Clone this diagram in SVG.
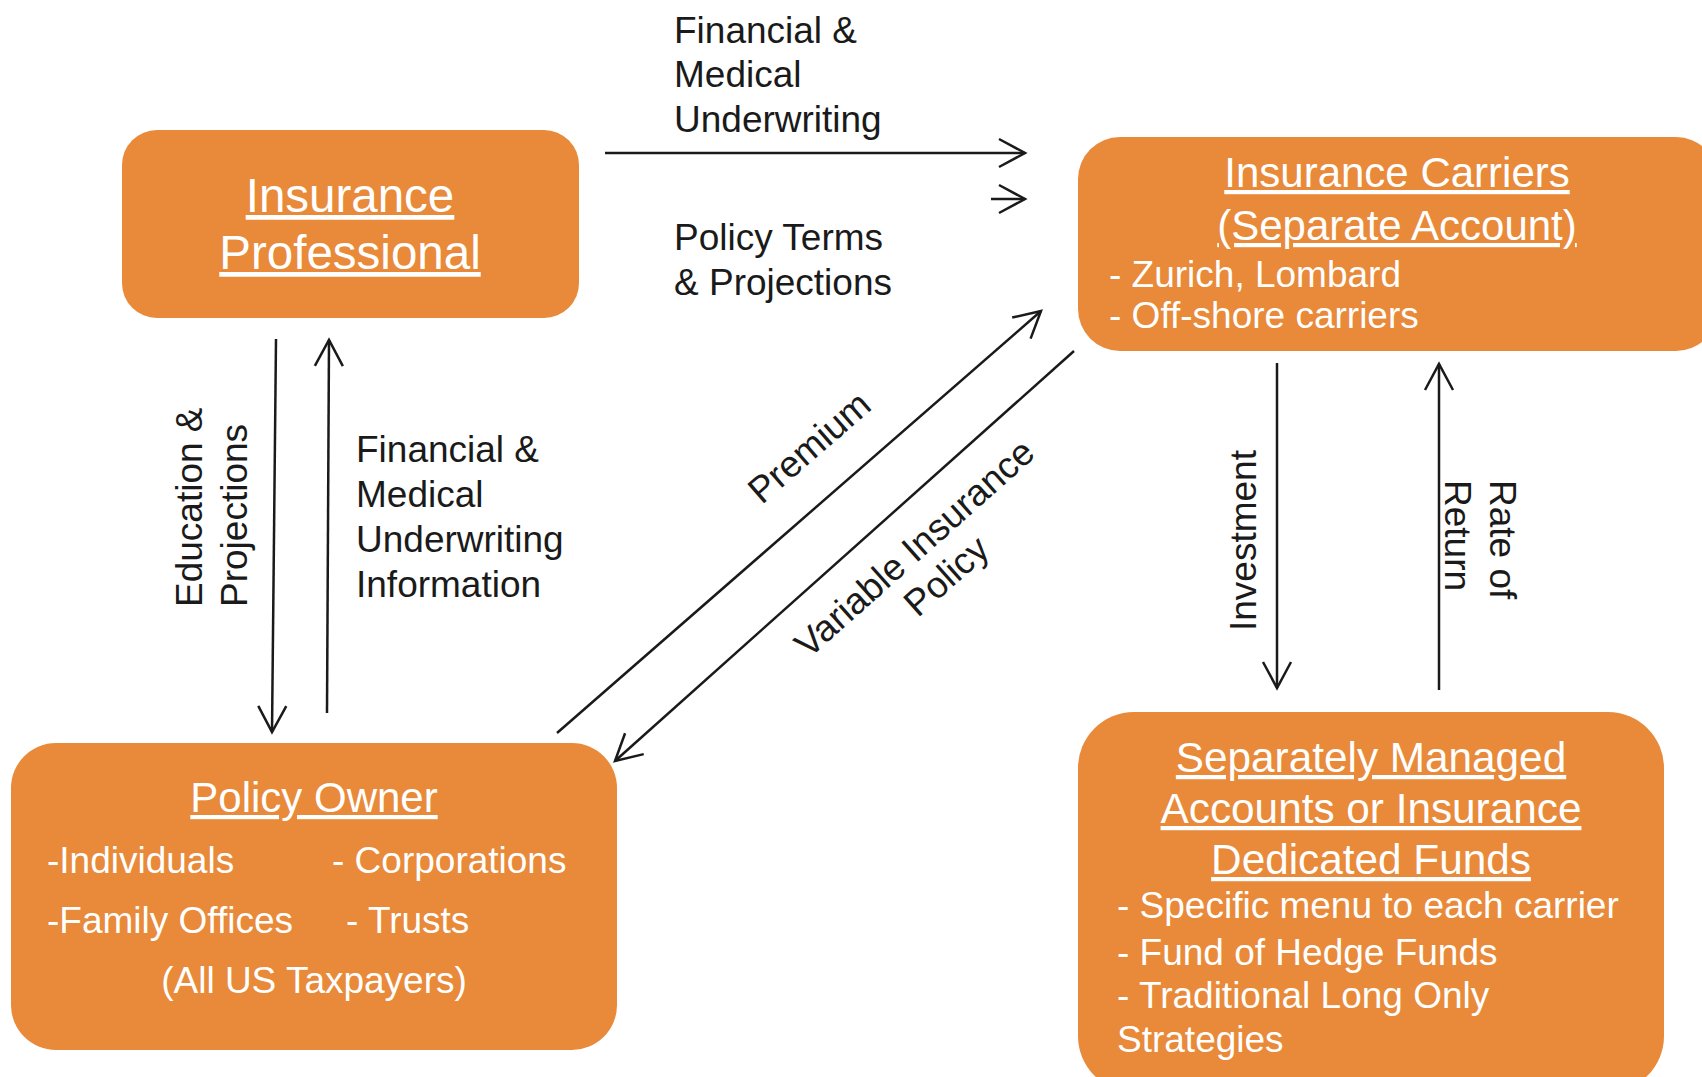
<svg xmlns="http://www.w3.org/2000/svg" width="1702" height="1077" viewBox="0 0 1702 1077">
  <defs>
    <style>
      .box { fill: #E88A3A; }
      .title { font-family: "Liberation Sans", Arial, sans-serif; fill: #ffffff; text-decoration: underline; text-anchor: middle; }
      .item { font-family: "Liberation Sans", Arial, sans-serif; fill: #ffffff; font-size: 37px; }
      .lbl { font-family: "Liberation Sans", Arial, sans-serif; fill: #1a1a1a; font-size: 37px; }
      .conn { stroke: #1a1a1a; stroke-width: 2.5; fill: none; marker-end: url(#head); }
    </style>
    <marker id="head" viewBox="-30 -18 34 36" refX="0" refY="0" markerWidth="34" markerHeight="36" markerUnits="userSpaceOnUse" orient="auto" overflow="visible">
      <path d="M-26,-14 L0,0 L-26,14" fill="none" stroke="#1a1a1a" stroke-width="2.5" stroke-linejoin="miter"/>
    </marker>
  </defs>

  <rect width="1702" height="1077" fill="#ffffff"/>

  <!-- Nodes -->
  <g id="insurance-professional">
    <rect class="box" x="122" y="130" width="457" height="188" rx="35" ry="35"/>
    <text class="title" font-size="47.5" x="350" y="212">Insurance</text>
    <text class="title" font-size="47.5" x="350" y="269">Professional</text>
  </g>

  <g id="insurance-carriers">
    <rect class="box" x="1078" y="137" width="640" height="214" rx="42" ry="42"/>
    <text class="title" font-size="42" x="1397" y="187">Insurance Carriers</text>
    <text class="title" font-size="42" x="1397" y="240">(Separate Account)</text>
    <text class="item" x="1109" y="287">- Zurich, Lombard</text>
    <text class="item" x="1109" y="328">- Off-shore carriers</text>
  </g>

  <g id="policy-owner">
    <rect class="box" x="11" y="743" width="606" height="307" rx="45" ry="45"/>
    <text class="title" font-size="42" x="314" y="812">Policy Owner</text>
    <text class="item" x="47" y="873">-Individuals</text>
    <text class="item" x="332" y="873">- Corporations</text>
    <text class="item" x="47" y="933">-Family Offices</text>
    <text class="item" x="346" y="933">- Trusts</text>
    <text class="item" x="314" y="993" text-anchor="middle">(All US Taxpayers)</text>
  </g>

  <g id="managed-accounts">
    <rect class="box" x="1078" y="712" width="586" height="380" rx="56" ry="56"/>
    <text class="title" font-size="42.3" x="1371" y="772">Separately Managed</text>
    <text class="title" font-size="42.3" x="1371" y="823">Accounts or Insurance</text>
    <text class="title" font-size="42.3" x="1371" y="874">Dedicated Funds</text>
    <text class="item" x="1117" y="918">- Specific menu to each carrier</text>
    <text class="item" x="1117" y="965">- Fund of Hedge Funds</text>
    <text class="item" x="1117" y="1008">- Traditional Long Only</text>
    <text class="item" x="1117" y="1052">Strategies</text>
  </g>

  <!-- Connectors -->
  <g id="connectors">
    <line class="conn" x1="605" y1="153" x2="1025" y2="153"/>
    <line class="conn" x1="991" y1="199" x2="1025" y2="199"/>
    <line class="conn" x1="276" y1="339" x2="272" y2="732"/>
    <line class="conn" x1="327" y1="713" x2="329" y2="340"/>
    <line class="conn" x1="557" y1="733" x2="1041" y2="311"/>
    <line class="conn" x1="1074" y1="351" x2="615" y2="761"/>
    <line class="conn" x1="1277" y1="363" x2="1277" y2="688"/>
    <line class="conn" x1="1439" y1="690" x2="1439" y2="364"/>
  </g>

  <!-- Connector labels -->
  <g id="labels">
    <text class="lbl" x="674" y="43">Financial &amp;</text>
    <text class="lbl" x="674" y="87">Medical</text>
    <text class="lbl" x="674" y="132">Underwriting</text>
    <text class="lbl" x="674" y="250">Policy Terms</text>
    <text class="lbl" x="674" y="295">&amp; Projections</text>

    <text class="lbl" x="356" y="462">Financial &amp;</text>
    <text class="lbl" x="356" y="507">Medical</text>
    <text class="lbl" x="356" y="552">Underwriting</text>
    <text class="lbl" x="356" y="597">Information</text>

    <text class="lbl" transform="translate(202,607) rotate(-90)">
      <tspan x="0" y="0">Education &amp;</tspan>
      <tspan x="0" y="45">Projections</tspan>
    </text>

    <text class="lbl" transform="translate(809,447) rotate(-41)" text-anchor="middle" y="13">Premium</text>

    <text class="lbl" transform="translate(932,560) rotate(-41.7)" text-anchor="middle">
      <tspan x="0" y="-8">Variable Insurance</tspan>
      <tspan x="0" y="34">Policy</tspan>
    </text>

    <text class="lbl" transform="translate(1256,631) rotate(-90)">Investment</text>

    <text class="lbl" transform="translate(1490,480) rotate(90)">
      <tspan x="0" y="0">Rate of</tspan>
      <tspan x="0" y="45">Return</tspan>
    </text>
  </g>
</svg>
